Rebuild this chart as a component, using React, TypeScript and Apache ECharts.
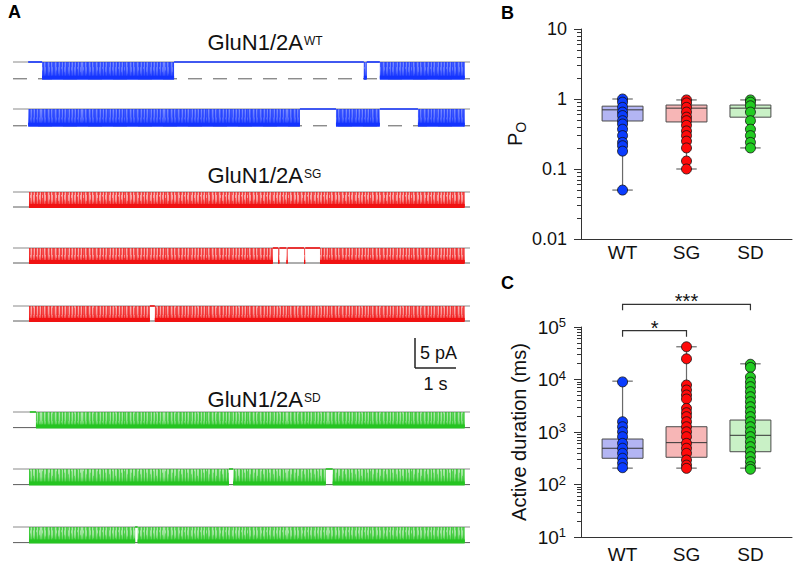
import React, { useEffect, useRef } from 'react';
import * as echarts from 'echarts';

const FONT = '"Liberation Sans", Arial, Helvetica, sans-serif';

/* ---------------- Panel A : single-channel recordings ---------------- */
// each segment: [start (s), end (s), state]   state 0 = closed, 1 = burst of openings
const wtTrace1 = [[0.37, 0.71, 0], [0.71, 3.93, 1], [3.93, 8.56, 0], [8.56, 8.63, 1], [8.63, 8.95, 0], [8.95, 11.02, 1]];
const wtTrace2 = [[0.37, 7.0, 1], [7.0, 7.88, 0], [7.88, 8.95, 1], [8.95, 9.88, 0], [9.88, 11.02, 1]];
const sgTrace1 = [[0.39, 11.02, 1]];
const sgTrace2 = [[0.39, 6.34, 1], [6.34, 6.47, 0], [6.47, 6.5, 1], [6.5, 6.67, 0], [6.67, 6.7, 1], [6.7, 7.1, 0], [7.1, 7.13, 1], [7.13, 7.49, 0], [7.49, 11.02, 1]];
const sgTrace3 = [[0.39, 3.34, 1], [3.34, 3.46, 0], [3.46, 11.02, 1]];
const sdTrace1 = [[0.41, 0.56, 0], [0.56, 11.02, 1]];
const sdTrace2 = [[0.39, 5.27, 1], [5.27, 5.37, 0], [5.37, 7.63, 1], [7.63, 7.8, 0], [7.8, 11.02, 1]];
const sdTrace3 = [[0.39, 2.98, 1], [2.98, 3.04, 0], [3.04, 11.02, 1]];
const titleMain = 'GluN1/2A';
const titleSups = ['WT', 'SG', 'SD'];
const unitaryAmp = [2.8, 2.5, 2.6]; // pA, per construct
const TRACE_T_MAX = 11.15; // s
const scaleBarPA = 5;
const scaleBarS = 1;

/* ---------------- Panels B & C ---------------- */
const categories = ['WT', 'SG', 'SD'];
// Po values (individual patches)
const poWT = [1.0, 0.9, 0.76, 0.65, 0.58, 0.49, 0.44, 0.37, 0.3, 0.24, 0.215, 0.18, 0.05];
const poSG = [0.97, 0.88, 0.76, 0.65, 0.55, 0.49, 0.42, 0.35, 0.3, 0.25, 0.2, 0.13, 0.1];
const poSD = [0.97, 0.9, 0.8, 0.65, 0.49, 0.37, 0.3, 0.24, 0.2];
// box stats: [min, q1, median, q3, max]
const poBoxWT = [0.05, 0.485, 0.7, 0.79, 1.0];
const poBoxSG = [0.1, 0.47, 0.74, 0.82, 0.97];
const poBoxSD = [0.2, 0.55, 0.74, 0.82, 0.97];

// active durations (ms)
const durWT = [9000, 1570, 1260, 1010, 815, 608, 490, 393, 316, 254, 209];
const durSG = [42000, 24800, 7850, 6300, 5070, 4250, 2820, 2330, 1960, 1570, 1260, 1010, 815, 608, 490, 393, 293, 234, 203];
const durSD = [19500, 17000, 11100, 8900, 7300, 5870, 4700, 3780, 3030, 2440, 1960, 1570, 1260, 1010, 815, 653, 525, 421, 339, 272, 219, 195];
const durBoxWT = [205, 316, 490, 735, 9300];
const durBoxSG = [205, 330, 627, 1260, 42000];
const durBoxSD = [205, 421, 865, 1690, 19900];
// significance brackets: [from category, to category, height (ms)]
const sigBrackets = [[0, 2, 2.7e5], [0, 1, 8.5e4]];
const sigLabels = ['***', '*'];

/* ---------------- styling / layout ---------------- */
const WT_COLOR = '#1434ff';
const SG_COLOR = '#f01212';
const SD_COLOR = '#25c421';
const DOT_COLORS = ['#0a3cff', '#ff0a0a', '#22cc22'];
const BOX_FILLS = ['#b3b5f3', '#f7b6b6', '#c9f1c6'];
const TRACE_LEFT = 13;
const TRACE_WIDTH = 457;
const PX_PER_PA = 6;
const Y_MIN = -4;
const Y_MAX = 1;
const BOX_HALF = 0.32;
const CAP_HALF = 0.16;

const traceRows = [
  { seg: wtTrace1, color: WT_COLOR, amp: unitaryAmp[0], dashed: true, closedY: 62, base: 0.55 },
  { seg: wtTrace2, color: WT_COLOR, amp: unitaryAmp[0], dashed: true, closedY: 109, base: 0.55 },
  { seg: sgTrace1, color: SG_COLOR, amp: unitaryAmp[1], dashed: false, closedY: 192, base: 0.3 },
  { seg: sgTrace2, color: SG_COLOR, amp: unitaryAmp[1], dashed: false, closedY: 248, base: 0.3 },
  { seg: sgTrace3, color: SG_COLOR, amp: unitaryAmp[1], dashed: false, closedY: 306, base: 0.3 },
  { seg: sdTrace1, color: SD_COLOR, amp: unitaryAmp[2], dashed: false, closedY: 412, base: 0.35 },
  { seg: sdTrace2, color: SD_COLOR, amp: unitaryAmp[2], dashed: false, closedY: 469, base: 0.35 },
  { seg: sdTrace3, color: SD_COLOR, amp: unitaryAmp[2], dashed: false, closedY: 527, base: 0.35 },
];

// flicker texture (fill pattern only, not data)
const TEX_X = [0, 1, 2, 4, 5, 6, 8, 9, 11, 12, 13, 15, 16, 17, 19, 20, 22, 23, 25, 26, 27, 29, 30, 32, 33, 35, 36, 38, 39];
const TEX_H = [1, 0.8, 1, 0.6, 1, 1, 0.7, 1, 0.5, 1, 1, 0.8, 1, 0.6, 1, 0.9, 1, 0.7, 1, 1, 0.6, 1, 0.8, 1, 0.5, 1, 0.9, 1, 0.7];
const TEX_O = [0.9, 0.6, 0.8, 0.5, 0.9, 0.7, 0.5, 0.9, 0.6, 0.8, 0.7, 0.5, 0.9, 0.6, 0.8, 0.7, 0.9, 0.5, 0.8, 0.7, 0.6, 0.9, 0.5, 0.8, 0.6, 0.9, 0.7, 0.8, 0.6];

function rgba(hex: string, a: number) {
  const n = parseInt(hex.slice(1), 16);
  return `rgba(${(n >> 16) & 255},${(n >> 8) & 255},${n & 255},${a})`;
}

function flickerPattern(color: string, h: number, yOff: number) {
  const W = 41;
  let body = '';
  TEX_X.forEach((x, i) => {
    const lh = h * TEX_H[i];
    body += `<rect x='${x}' y='${(h - lh).toFixed(2)}' width='1' height='${lh.toFixed(2)}' fill='${color}' fill-opacity='${TEX_O[i]}'/>`;
  });
  const svg = `<svg xmlns='http://www.w3.org/2000/svg' width='${W}' height='${h.toFixed(2)}'>${body}</svg>`;
  return {
    image: 'data:image/svg+xml;charset=utf-8,' + encodeURIComponent(svg),
    repeat: 'repeat',
    imageWidth: W,
    imageHeight: h,
    x: 0,
    y: yOff,
  };
}

function logLabel(v: number) {
  const e = Math.round(Math.log10(v));
  return e >= 0 ? String(Math.pow(10, e)) : Math.pow(10, e).toFixed(-e);
}

function minorTicks(lo: number, hi: number) {
  const out: number[] = [];
  for (let d = lo; d < hi; d *= 10) {
    for (let m = 2; m <= 9; m++) out.push(+(d * m).toPrecision(3));
  }
  return out;
}

function boxRender(fills: string[]) {
  return (params: any, api: any) => {
    const i = api.value(0);
    const mn = api.value(1), q1 = api.value(2), md = api.value(3), q3 = api.value(4), mx = api.value(5);
    const pMed = api.coord([i, md]);
    const tl = api.coord([i - BOX_HALF, q3]);
    const br = api.coord([i + BOX_HALF, q1]);
    const pMin = api.coord([i, mn]);
    const pMax = api.coord([i, mx]);
    const capL = api.coord([i - CAP_HALF, mn])[0];
    const capR = api.coord([i + CAP_HALF, mn])[0];
    const wStyle = { stroke: '#6a6a6a', lineWidth: 1.2 };
    return {
      type: 'group',
      children: [
        { type: 'line', shape: { x1: pMed[0], y1: pMax[1], x2: pMed[0], y2: tl[1] }, style: wStyle },
        { type: 'line', shape: { x1: pMed[0], y1: br[1], x2: pMed[0], y2: pMin[1] }, style: wStyle },
        { type: 'line', shape: { x1: capL, y1: pMax[1], x2: capR, y2: pMax[1] }, style: wStyle },
        { type: 'line', shape: { x1: capL, y1: pMin[1], x2: capR, y2: pMin[1] }, style: wStyle },
        {
          type: 'rect',
          shape: { x: tl[0], y: tl[1], width: br[0] - tl[0], height: br[1] - tl[1] },
          style: { fill: fills[params.dataIndex], stroke: '#4a4a4a', lineWidth: 1 },
        },
        { type: 'line', shape: { x1: tl[0], y1: pMed[1], x2: br[0], y2: pMed[1] }, style: { stroke: '#333', lineWidth: 1 } },
      ],
    };
  };
}

function buildOption() {
  const grid: any[] = [];
  const xAxis: any[] = [];
  const yAxis: any[] = [];
  const series: any[] = [];

  traceRows.forEach((row, k) => {
    grid.push({
      left: TRACE_LEFT,
      top: row.closedY - PX_PER_PA * Y_MAX,
      width: TRACE_WIDTH,
      height: PX_PER_PA * (Y_MAX - Y_MIN),
      outerBoundsMode: 'none',
    });
    xAxis.push({ gridIndex: k, type: 'value', min: 0, max: TRACE_T_MAX, show: false });
    yAxis.push({ gridIndex: k, type: 'value', min: Y_MIN, max: Y_MAX, show: false });
    series.push({
      type: 'line', xAxisIndex: k, yAxisIndex: k, silent: true, symbol: 'none', z: 1,
      data: [[0, 0], [TRACE_T_MAX, 0]],
      lineStyle: { color: '#8a8a8a', width: 1 },
    });
    series.push({
      type: 'line', xAxisIndex: k, yAxisIndex: k, silent: true, symbol: 'none', z: 1,
      data: [[0, -row.amp], [TRACE_T_MAX, -row.amp]],
      lineStyle: { color: '#5c5c5c', width: 1, type: row.dashed ? [14, 11] : 'solid' },
    });
    const grad = new echarts.graphic.LinearGradient(0, 0, 0, 1, [
      { offset: 0, color: rgba(row.color, row.base) },
      { offset: 0.5, color: rgba(row.color, row.base + 0.15) },
      { offset: 1, color: rgba(row.color, 1) },
    ]);
    const bandH = row.amp * PX_PER_PA;
    const pat = flickerPattern(row.color, bandH, row.closedY);
    const amp = row.amp;
    const color = row.color;
    series.push({
      type: 'custom', xAxisIndex: k, yAxisIndex: k, silent: true, z: 3,
      data: row.seg,
      renderItem: (params: any, api: any) => {
        const t0 = api.value(0), t1 = api.value(1), st = api.value(2);
        const a = api.coord([t0, 0]);
        const b = api.coord([t1, -amp]);
        if (st === 0) {
          return {
            type: 'line',
            shape: { x1: a[0], y1: a[1], x2: b[0], y2: a[1] },
            style: { stroke: color, lineWidth: 1.6 },
          };
        }
        const w = Math.max(1, b[0] - a[0]);
        const h = b[1] - a[1];
        return {
          type: 'group',
          children: [
            { type: 'rect', shape: { x: a[0], y: a[1], width: w, height: h }, style: { fill: grad } },
            { type: 'rect', shape: { x: a[0], y: a[1], width: w, height: h }, style: { fill: pat, opacity: 0.85 } },
            { type: 'rect', shape: { x: a[0], y: b[1] - 3, width: w, height: 4 }, style: { fill: color } },
          ],
        };
      },
    });
  });

  // panel B (grid 8) and C (grid 9)
  const panels = [
    { top: 29, lo: 0.01, hi: 10, labelMargin: 4, name: '{p|P}{o|O}', nameGap: 52 },
    { top: 327, lo: 10, hi: 1e5, labelMargin: 8, name: 'Active duration (ms)', nameGap: 52 },
  ];
  panels.forEach((p, j) => {
    const gi = 8 + j;
    grid.push({ left: 581, top: p.top, width: 211, height: 210, outerBoundsMode: 'none' });
    xAxis.push({
      gridIndex: gi, type: 'value', min: -0.65, max: 2.65,
      axisLine: { show: true, onZero: false, lineStyle: { color: '#333', width: 1 } },
      axisTick: { show: false },
      splitLine: { show: false },
      axisLabel: {
        customValues: [0, 1, 2],
        formatter: (v: number) => categories[Math.round(v)],
        fontSize: 19, color: '#111', fontFamily: FONT, margin: p.labelMargin,
      },
    });
    const isC = j === 1;
    yAxis.push({
      gridIndex: gi, type: 'log', logBase: 10, min: p.lo, max: p.hi, position: 'left',
      axisLine: { show: true, onZero: false, lineStyle: { color: '#333', width: 1 } },
      axisTick: { show: true, length: 7, lineStyle: { color: '#333' } },
      splitLine: { show: false },
      axisLabel: isC
        ? {
            margin: 15,
            formatter: (v: number) => `{b|10}{s|${Math.round(Math.log10(v))}}`,
            rich: {
              b: { fontSize: 19, color: '#111', fontFamily: FONT, lineHeight: 22 },
              s: { fontSize: 13, color: '#111', fontFamily: FONT, verticalAlign: 'top', lineHeight: 14 },
            },
          }
        : { margin: 14, fontSize: 18, color: '#111', fontFamily: FONT, formatter: logLabel },
      name: p.name,
      nameLocation: 'middle',
      nameGap: p.nameGap,
      nameTextStyle: isC
        ? { fontSize: 20, color: '#111', fontFamily: FONT }
        : {
            rich: {
              p: { fontSize: 20, color: '#111', fontFamily: FONT, lineHeight: 22, verticalAlign: 'top' },
              o: { fontSize: 14, color: '#111', fontFamily: FONT, lineHeight: 14, verticalAlign: 'top', padding: [9, 0, 0, 0] },
            },
          },
    });
    yAxis.push({
      gridIndex: gi, type: 'log', logBase: 10, min: p.lo, max: p.hi, position: 'left',
      axisLine: { show: false, onZero: false },
      axisLabel: { show: false },
      splitLine: { show: false },
      axisTick: { show: true, length: 4, customValues: minorTicks(p.lo, p.hi), lineStyle: { color: '#333' } },
    });
  });

  const yB = 8, yC = 10;
  const boxB = [[0, ...poBoxWT], [1, ...poBoxSG], [2, ...poBoxSD]];
  const boxC = [[0, ...durBoxWT], [1, ...durBoxSG], [2, ...durBoxSD]];
  series.push({ type: 'custom', xAxisIndex: 8, yAxisIndex: yB, silent: true, z: 2, data: boxB, renderItem: boxRender(BOX_FILLS) });
  series.push({ type: 'custom', xAxisIndex: 9, yAxisIndex: yC, silent: true, z: 2, data: boxC, renderItem: boxRender(BOX_FILLS) });

  const dotSeries = (vals: number[], ci: number, xi: number, yi: number) => ({
    type: 'scatter', xAxisIndex: xi, yAxisIndex: yi, silent: true, z: 4,
    symbol: 'circle', symbolSize: 10,
    itemStyle: { color: DOT_COLORS[ci], borderColor: '#111', borderWidth: 0.8, opacity: 1 },
    data: vals.map((v) => [ci, v]),
  });
  series.push(dotSeries(poWT, 0, 8, yB), dotSeries(poSG, 1, 8, yB), dotSeries(poSD, 2, 8, yB));
  series.push(dotSeries(durWT, 0, 9, yC), dotSeries(durSG, 1, 9, yC), dotSeries(durSD, 2, 9, yC));

  series.push({
    type: 'custom', xAxisIndex: 9, yAxisIndex: yC, silent: true, z: 5, clip: false,
    data: sigBrackets,
    renderItem: (params: any, api: any) => {
      const a = api.coord([api.value(0), api.value(2)]);
      const b = api.coord([api.value(1), api.value(2)]);
      return {
        type: 'group',
        children: [
          {
            type: 'polyline',
            shape: { points: [[a[0], a[1] + 6], [a[0], a[1]], [b[0], b[1]], [b[0], b[1] + 6]] },
            style: { stroke: '#333', lineWidth: 1.2, fill: 'none' },
          },
          {
            type: 'text', x: (a[0] + b[0]) / 2, y: a[1] - 3,
            style: { text: sigLabels[params.dataIndex], fontSize: 20, fontFamily: FONT, fill: '#111', align: 'center', verticalAlign: 'middle' },
          },
        ],
      };
    },
  });

  // texts & scale bar
  const pxPerS = TRACE_WIDTH / TRACE_T_MAX;
  const sbX = 415, sbY = 368;
  const titleY = [42.5, 175.5, 399];
  const graphic: any[] = [
    { type: 'text', x: 8, y: 12, style: { text: 'A', fontSize: 18, fontWeight: 'bold', fontFamily: FONT, fill: '#000', verticalAlign: 'middle' } },
    { type: 'text', x: 501, y: 13, style: { text: 'B', fontSize: 18, fontWeight: 'bold', fontFamily: FONT, fill: '#000', verticalAlign: 'middle' } },
    { type: 'text', x: 501, y: 283, style: { text: 'C', fontSize: 18, fontWeight: 'bold', fontFamily: FONT, fill: '#000', verticalAlign: 'middle' } },
    { type: 'line', shape: { x1: sbX, y1: sbY - scaleBarPA * PX_PER_PA, x2: sbX, y2: sbY }, style: { stroke: '#222', lineWidth: 1.5 } },
    { type: 'line', shape: { x1: sbX, y1: sbY, x2: sbX + scaleBarS * pxPerS, y2: sbY }, style: { stroke: '#222', lineWidth: 1.5 } },
    { type: 'text', x: sbX + 5, y: 353, style: { text: `${scaleBarPA} pA`, fontSize: 18, fontFamily: FONT, fill: '#111', verticalAlign: 'middle' } },
    { type: 'text', x: sbX + scaleBarS * pxPerS / 2, y: 383.5, style: { text: `${scaleBarS} s`, fontSize: 18, fontFamily: FONT, fill: '#111', align: 'center', verticalAlign: 'middle' } },
  ];
  titleSups.forEach((s, i) => {
    graphic.push({ type: 'text', x: 303, y: titleY[i], style: { text: titleMain, fontSize: 22, fontFamily: FONT, fill: '#111', align: 'right', verticalAlign: 'middle' } });
    graphic.push({ type: 'text', x: 304, y: titleY[i] - 1.5, style: { text: s, fontSize: 12, fontFamily: FONT, fill: '#111', align: 'left', verticalAlign: 'middle' } });
  });

  return {
    animation: false,
    textStyle: { fontFamily: FONT },
    grid, xAxis, yAxis, series, graphic,
  };
}

export default function App() {
  const ref = useRef<HTMLDivElement>(null);
  useEffect(() => {
    if (!ref.current) return;
    const chart = echarts.init(ref.current, null, { renderer: 'svg' });
    chart.setOption(buildOption() as any);
    return () => chart.dispose();
  }, []);
  return (
    <div
      ref={ref}
      style={{ position: 'absolute', left: 0, top: 0, width: 795, height: 567, background: '#fff' }}
    />
  );
}
